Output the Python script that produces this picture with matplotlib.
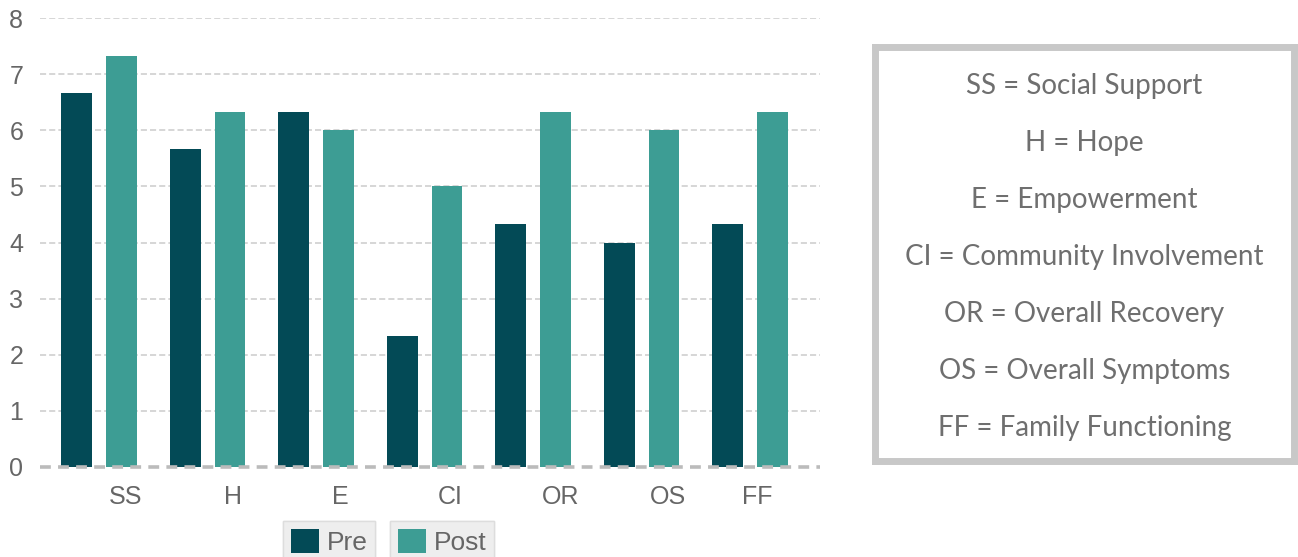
import matplotlib.pyplot as plt
import numpy as np

# data
categories = ["SS", "H", "E", "CI", "OR", "OS", "FF"]
pre = [6.67, 5.67, 6.33, 2.33, 4.33, 4.0, 4.33]
post = [7.33, 6.33, 6.0, 5.0, 6.33, 6.0, 6.33]
key_lines = [
    "SS = Social Support",
    "H = Hope",
    "E = Empowerment",
    "CI = Community Involvement",
    "OR = Overall Recovery",
    "OS = Overall Symptoms",
    "FF = Family Functioning",
]

PRE_COLOR = "#034a56"
POST_COLOR = "#3d9d94"
TEXT_COLOR = "#666666"

W, H = 1298, 557
fig = plt.figure(figsize=(W / 100, H / 100), dpi=100)

# main bar chart
ax = fig.add_axes([40 / W, 1 - 467 / H, 780 / W, 449 / H])
x = np.arange(len(categories))
bw = 0.285
ax.bar(x - 0.207, pre, bw, color=PRE_COLOR, label="Pre", zorder=3)
ax.bar(x + 0.207, post, bw, color=POST_COLOR, label="Post", zorder=3)

ax.set_xlim(-0.544, 6.645)
ax.set_ylim(0, 8)
ax.set_yticks(range(0, 9))
for v in range(1, 9):
    ax.axhline(v, color="#cccccc", lw=1.1, ls=(0, (4, 2)), zorder=1)
ax.axhline(0, color="#bbbbbb", lw=2.6, ls=(0, (3, 2)), zorder=4, clip_on=False)

# category labels sit a bit right of each group
tick_shift = [0.24, 0.235, 0.22, 0.235, 0.25, 0.24, 0.07]
ax.set_xticks(x + np.array(tick_shift))
ax.set_xticklabels(categories)
ax.tick_params(axis="x", length=0, labelsize=18, labelcolor=TEXT_COLOR, pad=13)
ax.tick_params(axis="y", length=0, labelsize=18, labelcolor=TEXT_COLOR, pad=12)
for s in ax.spines.values():
    s.set_visible(False)
for lab in ax.get_xticklabels() + ax.get_yticklabels():
    lab.set_family("Liberation Sans")

# legend: one framed box per series
handles, labels = ax.get_legend_handles_labels()
anchors = [(283 / W, -6 / H), (390 / W, -6 / H)]
for h, l, a in zip(handles, labels, anchors):
    leg = fig.legend([h], [l], loc="lower left", bbox_to_anchor=a,
                     bbox_transform=fig.transFigure,
                     prop={"family": "Liberation Sans", "size": 19},
                     labelcolor=TEXT_COLOR, frameon=True, fancybox=False,
                     facecolor="#eeeeee", edgecolor="#dddddd", framealpha=1,
                     handlelength=1.05, handleheight=1.05, handletextpad=0.3,
                     borderpad=0.3, borderaxespad=0)
    leg.get_frame().set_linewidth(1)
    fig.add_artist(leg)

# abbreviation key box
kax = fig.add_axes([875 / W, 1 - 461 / H, 419 / W, 414 / H])
kax.set_xticks([])
kax.set_yticks([])
kax.set_xlim(0, 1)
kax.set_ylim(461, 47)
for s in kax.spines.values():
    s.set_color("#c8c8c8")
    s.set_linewidth(5)
line_y = np.linspace(86, 428, len(key_lines))
for yy, line in zip(line_y, key_lines):
    kax.text(0.5, yy, line, ha="center", va="center",
             fontsize=20, color="#6f6f6f", family="Lato")

fig.savefig("out.png", dpi=100)
